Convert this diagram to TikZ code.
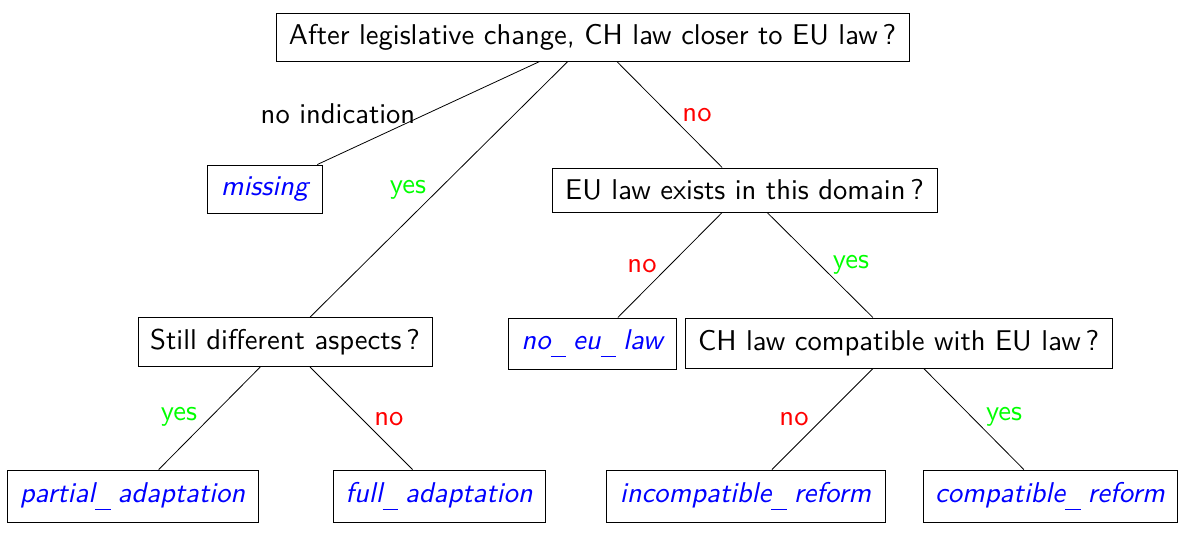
\documentclass[tikz,border=0pt]{standalone}
\usepackage{fontspec}
\setmainfont{lmsans10-regular.otf}[ItalicFont=lmsans10-oblique.otf]
\newcommand\usc{\kern0.0em\rule[-0.27em]{0.55em}{0.04em}\kern0.24em}
\begin{document}
\begin{tikzpicture}[x=0.5pt,y=-0.5pt,
  box/.style={draw, line width=0.5pt, inner sep=0pt, font=\fontsize{14.3}{17}\selectfont},
  leaf/.style={box, text=blue, font=\fontsize{14.3}{17}\selectfont\itshape},
  lbl/.style={inner sep=0pt, font=\fontsize{14.3}{17}\selectfont},
  yeslbl/.style={lbl, text={rgb,255:red,0;green,255;blue,0}},
  nolbl/.style={lbl, text=red},
  edge/.style={line width=0.4pt}]
\useasboundingbox (0,0) rectangle (1192,537);
\node[box, minimum width=316.5pt, minimum height=24pt] (top) at (592.5,37) {After legislative change, CH law closer to EU law\,?};
\node[leaf, minimum width=57.5pt, minimum height=24pt] (missing) at (264.5,189) {missing};
\node[box, minimum width=192.5pt, minimum height=22pt] (eu) at (744.5,190) {EU law exists in this domain\,?};
\node[box, minimum width=147pt, minimum height=24.5pt] (still) at (285,342) {Still different aspects\,?};
\node[leaf, minimum width=84pt, minimum height=25.5pt] (noeu) at (592,343.5) {no\usc eu\usc law};
\node[box, minimum width=213.5pt, minimum height=25pt] (chc) at (898.5,343) {CH law compatible with EU law\,?};
\node[leaf, minimum width=125.5pt, minimum height=26pt] (partial) at (132.5,496) {partial\usc adaptation};
\node[leaf, minimum width=106pt, minimum height=26pt] (full) at (439,496) {full\usc adaptation};
\node[leaf, minimum width=139.5pt, minimum height=26pt] (incomp) at (745.5,496) {incompatible\usc reform};
\node[leaf, minimum width=127pt, minimum height=26pt] (comp) at (1050,496) {compatible\usc reform};
\draw[edge] (top) -- (missing);
\draw[edge] (top) -- (still);
\draw[edge] (top) -- (eu);
\draw[edge] (eu) -- (noeu);
\draw[edge] (eu) -- (chc);
\draw[edge] (still) -- (partial);
\draw[edge] (still) -- (full);
\draw[edge] (chc) -- (incomp);
\draw[edge] (chc) -- (comp);
\node[lbl] (l1) at (338,114) {no indication};
\node[yeslbl] (l2) at (408,190) {yes};
\node[nolbl] (l3) at (697,115) {no};
\node[nolbl] (l4) at (642,266) {no};
\node[yeslbl] (l5) at (851,265) {yes};
\node[yeslbl] (l6) at (179,417) {yes};
\node[nolbl] (l7) at (389,419) {no};
\node[nolbl] (l8) at (794,419) {no};
\node[yeslbl] (l9) at (1004,417) {yes};
\end{tikzpicture}
\end{document}
